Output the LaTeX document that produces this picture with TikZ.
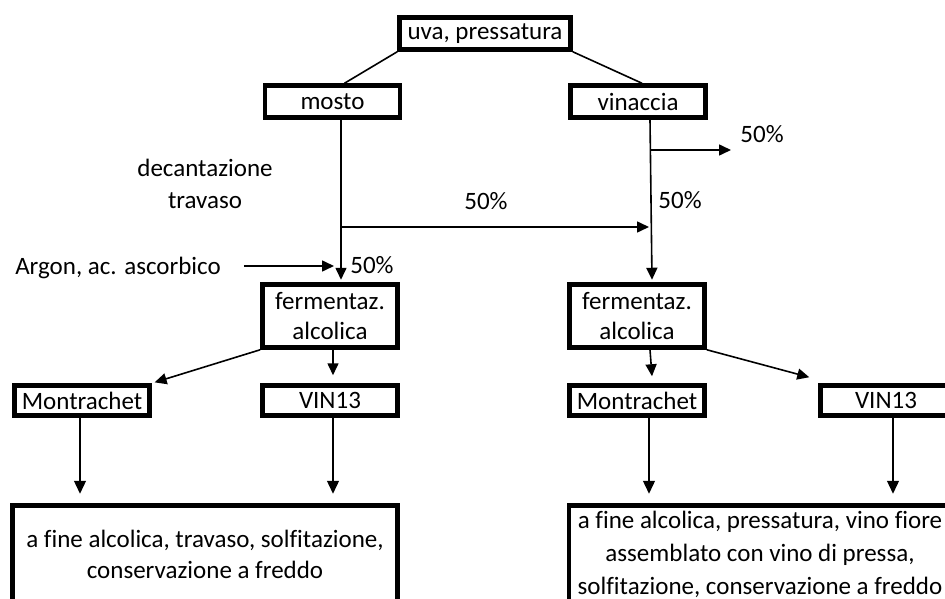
\documentclass[tikz,border=0pt]{standalone}
\usepackage{fontspec}
\setmainfont{Carlito}[Ligatures=NoCommon]
\usetikzlibrary{arrows.meta,calc}
\begin{document}
\begin{tikzpicture}[x=1pt,y=-1pt,
  box/.style={draw, line width=4.5pt, inner sep=0pt, minimum width=135pt, minimum height=32pt, align=center, font=\fontsize{25}{30}\selectfont},
  lbl/.style={inner sep=0pt, align=center, font=\fontsize{25}{32}\selectfont},
  conn/.style={line width=1.6pt},
  arr/.style={conn, -{Triangle[length=12pt,width=11pt]}},
  darr/.style={line width=1.3pt, -{Triangle[length=13pt,width=12pt]}}
]
\useasboundingbox (0,0) rectangle (945,599);
\clip (0,0) rectangle (945,599);
% boxes
\node[box, minimum width=171pt] (uva) at (485,33.5) {uva, pressatura};
\node[box] (mosto) at (332.5,101.5) {mosto};
\node[box] (vinaccia) at (638,101.5) {vinaccia};
\node[box, minimum height=63pt] (fermL) at (330,316) {fermentaz.\\alcolica};
\node[box, minimum height=63pt] (fermR) at (637,316) {fermentaz.\\alcolica};
\node[box, minimum height=30pt] (montL) at (82,400.5) {Montrachet};
\node[box, minimum height=30pt] (vinL) at (330,400.5) {VIN13};
\node[box, minimum height=30pt] (montR) at (637,400.5) {Montrachet};
\node[box, minimum height=30pt, minimum width=131pt] (vinR) at (886,400.5) {VIN13};
\node[box, minimum width=385pt, minimum height=97pt, font=\fontsize{25}{31}\selectfont] (finL) at (205,554) {a fine alcolica, travaso, solfitazione,\\conservazione a freddo};
\node[box, minimum width=382pt, minimum height=97pt, font=\fontsize{25}{33}\selectfont] (finR) at (760,554) {a fine alcolica, pressatura, vino fiore\\assemblato con vino di pressa,\\solfitazione, conservazione a freddo};
% labels
\node[lbl] (dec) at (205,184) {decantazione\\travaso};
\node[lbl] (p1) at (486,201) {50\%};
\node[lbl] (p2) at (762,134) {50\%};
\node[lbl] (p3) at (680,200) {50\%};
\node[lbl] (p4) at (372,265) {50\%};
\node[lbl] (argon) at (118,268) {Argon, ac. ascorbico};
% coordinates
\coordinate (mj) at (341,227);
\coordinate (vj) at (649,227);
\coordinate (vb) at (650.5,150);
\coordinate (vbo) at (731,150);
\coordinate (argtip) at (334,266);
% connectors
\draw[conn] (uva.south west) -- ($(mosto.north)+(12,0)$);
\draw[conn] (uva.south east) -- ($(vinaccia.north)+(4,0)$);
\draw[arr] ($(mosto.south)+(8.5,0)$) -- ($(fermL.north)+(11,-2.5)$);
\draw[arr] (mj) -- (vj);
\draw[arr] ($(vinaccia.south)+(12,0)$) -- ($(fermR.north)+(15,-2.5)$);
\draw[arr] (vb) -- (vbo);
\draw[arr] ([xshift=23pt]argon.east |- argtip) -- (argtip);
\draw[arr, shorten >=3pt] (fermL.south west) -- (montL.north east);
\draw[arr] ($(fermL.south)+(3,0)$) -- ($(vinL.north)+(3,-8)$);
\draw[arr] ($(fermR.south)+(13,0)$) -- ($(montR.north)+(15,-7)$);
\draw[arr] (fermR.south east) -- ($(vinR.north west)+(-9,-6)$);
\draw[darr] ($(montL.south)+(-2,0)$) -- ($(montL.south)+(-2,76)$);
\draw[darr] ($(vinL.south)+(3,0)$) -- ($(vinL.south)+(3,76)$);
\draw[darr] ($(montR.south)+(12,0)$) -- ($(montR.south)+(12,76)$);
\draw[darr] ($(vinR.south)+(7,0)$) -- ($(vinR.south)+(7,76)$);
\end{tikzpicture}
\end{document}
